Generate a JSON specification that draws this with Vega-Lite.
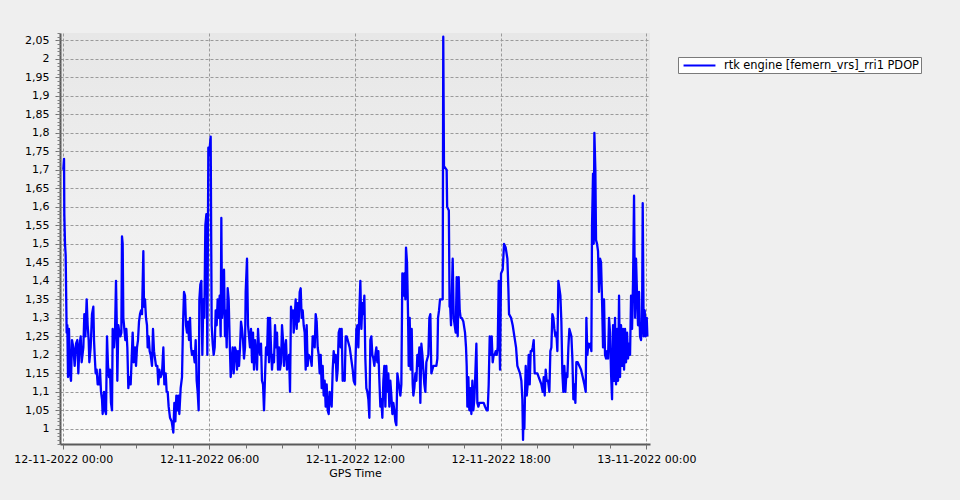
{
  "$schema": "https://vega.github.io/schema/vega-lite/v6.json",
  "width": 590,
  "height": 411,
  "autosize": {"type": "none"},
  "padding": {"left": 60, "top": 33, "right": 310, "bottom": 56},
  "background": "#efefef",
  "config": {
    "view": {
      "stroke": null,
      "fill": {"gradient": "linear", "x1": 0, "y1": 0, "x2": 0, "y2": 1, "stops": [{"offset": 0, "color": "#e7e7e7"}, {"offset": 1, "color": "#fafafa"}]}
    },
    "font": "DejaVu Sans",
    "axis": {"labelFont": "DejaVu Sans", "labelFontSize": 11, "labelColor": "#000000", "titleFont": "DejaVu Sans", "titleFontSize": 11, "titleFontWeight": "normal", "titleColor": "#000000"}
  },
  "data": {"values": [
    {"hour":0.00,"pdop":1.70},{"hour":0.03,"pdop":1.73},{"hour":0.042,"pdop":1.58},{"hour":0.07,"pdop":1.50},{"hour":0.097,"pdop":1.47},{"hour":0.138,"pdop":1.26},{"hour":0.166,"pdop":1.28},{"hour":0.193,"pdop":1.14},{"hour":0.234,"pdop":1.27},{"hour":0.276,"pdop":1.15},{"hour":0.317,"pdop":1.13},{"hour":0.358,"pdop":1.24},{"hour":0.413,"pdop":1.22},{"hour":0.468,"pdop":1.17},{"hour":0.523,"pdop":1.23},{"hour":0.578,"pdop":1.24},{"hour":0.619,"pdop":1.15},{"hour":0.660,"pdop":1.22},{"hour":0.715,"pdop":1.25},{"hour":0.756,"pdop":1.18},{"hour":0.825,"pdop":1.22},{"hour":0.866,"pdop":1.31},{"hour":0.907,"pdop":1.25},{"hour":0.962,"pdop":1.35},{"hour":1.003,"pdop":1.28},{"hour":1.044,"pdop":1.24},{"hour":1.072,"pdop":1.18},{"hour":1.126,"pdop":1.22},{"hour":1.181,"pdop":1.31},{"hour":1.236,"pdop":1.33},{"hour":1.264,"pdop":1.24},{"hour":1.291,"pdop":1.20},{"hour":1.332,"pdop":1.15},{"hour":1.373,"pdop":1.16},{"hour":1.415,"pdop":1.12},{"hour":1.469,"pdop":1.12},{"hour":1.511,"pdop":1.16},{"hour":1.552,"pdop":1.10},{"hour":1.593,"pdop":1.08},{"hour":1.620,"pdop":1.04},{"hour":1.675,"pdop":1.10},{"hour":1.716,"pdop":1.05},{"hour":1.758,"pdop":1.04},{"hour":1.799,"pdop":1.25},{"hour":1.840,"pdop":1.17},{"hour":1.881,"pdop":1.14},{"hour":1.922,"pdop":1.16},{"hour":1.963,"pdop":1.07},{"hour":2.005,"pdop":1.05},{"hour":2.032,"pdop":1.27},{"hour":2.087,"pdop":1.22},{"hour":2.128,"pdop":1.26},{"hour":2.169,"pdop":1.40},{"hour":2.197,"pdop":1.30},{"hour":2.224,"pdop":1.13},{"hour":2.265,"pdop":1.28},{"hour":2.307,"pdop":1.26},{"hour":2.348,"pdop":1.25},{"hour":2.389,"pdop":1.26},{"hour":2.416,"pdop":1.52},{"hour":2.444,"pdop":1.50},{"hour":2.471,"pdop":1.30},{"hour":2.512,"pdop":1.27},{"hour":2.554,"pdop":1.24},{"hour":2.595,"pdop":1.27},{"hour":2.636,"pdop":1.22},{"hour":2.677,"pdop":1.11},{"hour":2.718,"pdop":1.14},{"hour":2.773,"pdop":1.12},{"hour":2.814,"pdop":1.19},{"hour":2.855,"pdop":1.26},{"hour":2.897,"pdop":1.18},{"hour":2.951,"pdop":1.22},{"hour":2.993,"pdop":1.17},{"hour":3.034,"pdop":1.22},{"hour":3.075,"pdop":1.24},{"hour":3.116,"pdop":1.29},{"hour":3.157,"pdop":1.31},{"hour":3.198,"pdop":1.32},{"hour":3.240,"pdop":1.31},{"hour":3.295,"pdop":1.48},{"hour":3.322,"pdop":1.33},{"hour":3.363,"pdop":1.35},{"hour":3.404,"pdop":1.30},{"hour":3.445,"pdop":1.28},{"hour":3.473,"pdop":1.22},{"hour":3.514,"pdop":1.25},{"hour":3.555,"pdop":1.21},{"hour":3.596,"pdop":1.20},{"hour":3.651,"pdop":1.17},{"hour":3.692,"pdop":1.27},{"hour":3.734,"pdop":1.21},{"hour":3.775,"pdop":1.19},{"hour":3.816,"pdop":1.17},{"hour":3.871,"pdop":1.17},{"hour":3.912,"pdop":1.12},{"hour":3.953,"pdop":1.16},{"hour":4.008,"pdop":1.14},{"hour":4.063,"pdop":1.15},{"hour":4.118,"pdop":1.22},{"hour":4.159,"pdop":1.12},{"hour":4.214,"pdop":1.15},{"hour":4.255,"pdop":1.10},{"hour":4.296,"pdop":1.10},{"hour":4.337,"pdop":1.06},{"hour":4.392,"pdop":1.03},{"hour":4.461,"pdop":1.02},{"hour":4.529,"pdop":0.99},{"hour":4.571,"pdop":1.07},{"hour":4.612,"pdop":1.02},{"hour":4.653,"pdop":1.09},{"hour":4.694,"pdop":1.05},{"hour":4.735,"pdop":1.09},{"hour":4.776,"pdop":1.04},{"hour":4.831,"pdop":1.11},{"hour":4.886,"pdop":1.14},{"hour":4.927,"pdop":1.28},{"hour":4.969,"pdop":1.37},{"hour":5.010,"pdop":1.36},{"hour":5.051,"pdop":1.28},{"hour":5.092,"pdop":1.26},{"hour":5.133,"pdop":1.29},{"hour":5.174,"pdop":1.24},{"hour":5.216,"pdop":1.30},{"hour":5.257,"pdop":1.22},{"hour":5.298,"pdop":1.20},{"hour":5.353,"pdop":1.21},{"hour":5.408,"pdop":1.18},{"hour":5.449,"pdop":1.24},{"hour":5.490,"pdop":1.13},{"hour":5.531,"pdop":1.10},{"hour":5.572,"pdop":1.05},{"hour":5.600,"pdop":1.35},{"hour":5.641,"pdop":1.39},{"hour":5.682,"pdop":1.40},{"hour":5.723,"pdop":1.20},{"hour":5.764,"pdop":1.35},{"hour":5.806,"pdop":1.30},{"hour":5.847,"pdop":1.55},{"hour":5.888,"pdop":1.58},{"hour":5.929,"pdop":1.20},{"hour":5.970,"pdop":1.76},{"hour":6.00,"pdop":1.74},
    {"hour":6.066,"pdop":1.79},{"hour":6.107,"pdop":1.28},{"hour":6.149,"pdop":1.23},{"hour":6.190,"pdop":1.20},{"hour":6.231,"pdop":1.22},{"hour":6.272,"pdop":1.32},{"hour":6.313,"pdop":1.28},{"hour":6.354,"pdop":1.35},{"hour":6.396,"pdop":1.30},{"hour":6.437,"pdop":1.36},{"hour":6.478,"pdop":1.25},{"hour":6.505,"pdop":1.57},{"hour":6.533,"pdop":1.30},{"hour":6.574,"pdop":1.33},{"hour":6.615,"pdop":1.43},{"hour":6.656,"pdop":1.25},{"hour":6.684,"pdop":1.32},{"hour":6.725,"pdop":1.22},{"hour":6.766,"pdop":1.38},{"hour":6.807,"pdop":1.35},{"hour":6.848,"pdop":1.24},{"hour":6.890,"pdop":1.14},{"hour":6.931,"pdop":1.18},{"hour":6.972,"pdop":1.22},{"hour":7.013,"pdop":1.15},{"hour":7.068,"pdop":1.22},{"hour":7.109,"pdop":1.21},{"hour":7.150,"pdop":1.16},{"hour":7.191,"pdop":1.21},{"hour":7.233,"pdop":1.17},{"hour":7.274,"pdop":1.22},{"hour":7.315,"pdop":1.29},{"hour":7.356,"pdop":1.27},{"hour":7.397,"pdop":1.24},{"hour":7.438,"pdop":1.19},{"hour":7.480,"pdop":1.22},{"hour":7.507,"pdop":1.37},{"hour":7.562,"pdop":1.46},{"hour":7.603,"pdop":1.28},{"hour":7.644,"pdop":1.25},{"hour":7.685,"pdop":1.22},{"hour":7.727,"pdop":1.27},{"hour":7.768,"pdop":1.18},{"hour":7.809,"pdop":1.26},{"hour":7.850,"pdop":1.16},{"hour":7.891,"pdop":1.24},{"hour":7.932,"pdop":1.20},{"hour":7.974,"pdop":1.16},{"hour":8.015,"pdop":1.27},{"hour":8.056,"pdop":1.22},{"hour":8.097,"pdop":1.20},{"hour":8.138,"pdop":1.23},{"hour":8.179,"pdop":1.13},{"hour":8.221,"pdop":1.12},{"hour":8.262,"pdop":1.05},{"hour":8.303,"pdop":1.14},{"hour":8.344,"pdop":1.22},{"hour":8.385,"pdop":1.20},{"hour":8.426,"pdop":1.30},{"hour":8.468,"pdop":1.18},{"hour":8.509,"pdop":1.30},{"hour":8.550,"pdop":1.22},{"hour":8.591,"pdop":1.16},{"hour":8.632,"pdop":1.20},{"hour":8.673,"pdop":1.18},{"hour":8.715,"pdop":1.28},{"hour":8.756,"pdop":1.22},{"hour":8.797,"pdop":1.26},{"hour":8.838,"pdop":1.16},{"hour":8.879,"pdop":1.22},{"hour":8.920,"pdop":1.16},{"hour":8.962,"pdop":1.18},{"hour":9.003,"pdop":1.28},{"hour":9.044,"pdop":1.24},{"hour":9.085,"pdop":1.17},{"hour":9.126,"pdop":1.22},{"hour":9.167,"pdop":1.24},{"hour":9.209,"pdop":1.16},{"hour":9.250,"pdop":1.18},{"hour":9.291,"pdop":1.20},{"hour":9.332,"pdop":1.10},{"hour":9.373,"pdop":1.33},{"hour":9.414,"pdop":1.30},{"hour":9.456,"pdop":1.32},{"hour":9.483,"pdop":1.26},{"hour":9.524,"pdop":1.30},{"hour":9.565,"pdop":1.35},{"hour":9.607,"pdop":1.27},{"hour":9.648,"pdop":1.34},{"hour":9.689,"pdop":1.29},{"hour":9.730,"pdop":1.37},{"hour":9.771,"pdop":1.38},{"hour":9.812,"pdop":1.30},{"hour":9.854,"pdop":1.32},{"hour":9.895,"pdop":1.28},{"hour":9.936,"pdop":1.26},{"hour":9.977,"pdop":1.16},{"hour":10.018,"pdop":1.28},{"hour":10.059,"pdop":1.17},{"hour":10.101,"pdop":1.20},{"hour":10.142,"pdop":1.195},{"hour":10.183,"pdop":1.19},{"hour":10.224,"pdop":1.17},{"hour":10.265,"pdop":1.25},{"hour":10.306,"pdop":1.25},{"hour":10.348,"pdop":1.22},{"hour":10.389,"pdop":1.31},{"hour":10.430,"pdop":1.29},{"hour":10.471,"pdop":1.22},{"hour":10.512,"pdop":1.20},{"hour":10.553,"pdop":1.15},{"hour":10.595,"pdop":1.20},{"hour":10.636,"pdop":1.11},{"hour":10.677,"pdop":1.17},{"hour":10.718,"pdop":1.09},{"hour":10.759,"pdop":1.13},{"hour":10.800,"pdop":1.06},{"hour":10.842,"pdop":1.12},{"hour":10.883,"pdop":1.05},{"hour":10.924,"pdop":1.04},{"hour":10.965,"pdop":1.10},{"hour":11.006,"pdop":1.08},{"hour":11.047,"pdop":1.06},{"hour":11.089,"pdop":1.16},{"hour":11.130,"pdop":1.21},{"hour":11.171,"pdop":1.18},{"hour":11.212,"pdop":1.20},{"hour":11.253,"pdop":1.13},{"hour":11.294,"pdop":1.16},{"hour":11.336,"pdop":1.26},{"hour":11.377,"pdop":1.27},{"hour":11.418,"pdop":1.22},{"hour":11.459,"pdop":1.27},{"hour":11.500,"pdop":1.13},{"hour":11.541,"pdop":1.15},{"hour":11.583,"pdop":1.13},{"hour":11.624,"pdop":1.25},{"hour":11.665,"pdop":1.25},{"hour":11.706,"pdop":1.24},{"hour":11.747,"pdop":1.23},{"hour":11.788,"pdop":1.22},{"hour":11.830,"pdop":1.20},{"hour":11.871,"pdop":1.18},{"hour":11.912,"pdop":1.16},{"hour":11.953,"pdop":1.13},{"hour":12.008,"pdop":1.12},
    {"hour":12.022,"pdop":1.17},{"hour":12.063,"pdop":1.27},{"hour":12.104,"pdop":1.28},{"hour":12.145,"pdop":1.22},{"hour":12.186,"pdop":1.32},{"hour":12.227,"pdop":1.40},{"hour":12.269,"pdop":1.27},{"hour":12.310,"pdop":1.34},{"hour":12.351,"pdop":1.31},{"hour":12.392,"pdop":1.36},{"hour":12.433,"pdop":1.19},{"hour":12.474,"pdop":1.11},{"hour":12.516,"pdop":1.10},{"hour":12.557,"pdop":1.08},{"hour":12.598,"pdop":1.03},{"hour":12.639,"pdop":1.24},{"hour":12.680,"pdop":1.25},{"hour":12.721,"pdop":1.20},{"hour":12.763,"pdop":1.19},{"hour":12.804,"pdop":1.17},{"hour":12.845,"pdop":1.20},{"hour":12.886,"pdop":1.22},{"hour":12.927,"pdop":1.18},{"hour":12.968,"pdop":1.21},{"hour":13.010,"pdop":1.13},{"hour":13.051,"pdop":1.06},{"hour":13.092,"pdop":1.08},{"hour":13.133,"pdop":1.03},{"hour":13.174,"pdop":1.13},{"hour":13.215,"pdop":1.17},{"hour":13.257,"pdop":1.06},{"hour":13.298,"pdop":1.17},{"hour":13.339,"pdop":1.10},{"hour":13.380,"pdop":1.15},{"hour":13.421,"pdop":1.06},{"hour":13.462,"pdop":1.13},{"hour":13.504,"pdop":1.09},{"hour":13.545,"pdop":1.04},{"hour":13.586,"pdop":1.07},{"hour":13.627,"pdop":1.05},{"hour":13.668,"pdop":1.02},{"hour":13.709,"pdop":1.01},{"hour":13.751,"pdop":1.15},{"hour":13.792,"pdop":1.13},{"hour":13.833,"pdop":1.11},{"hour":13.874,"pdop":1.09},{"hour":13.915,"pdop":1.12},{"hour":13.956,"pdop":1.42},{"hour":13.998,"pdop":1.36},{"hour":14.039,"pdop":1.42},{"hour":14.080,"pdop":1.35},{"hour":14.107,"pdop":1.49},{"hour":14.148,"pdop":1.45},{"hour":14.190,"pdop":1.31},{"hour":14.217,"pdop":1.17},{"hour":14.258,"pdop":1.30},{"hour":14.299,"pdop":1.16},{"hour":14.341,"pdop":1.27},{"hour":14.382,"pdop":1.12},{"hour":14.409,"pdop":1.09},{"hour":14.450,"pdop":1.11},{"hour":14.492,"pdop":1.15},{"hour":14.533,"pdop":1.13},{"hour":14.574,"pdop":1.20},{"hour":14.615,"pdop":1.17},{"hour":14.656,"pdop":1.22},{"hour":14.697,"pdop":1.07},{"hour":14.739,"pdop":1.23},{"hour":14.780,"pdop":1.20},{"hour":14.821,"pdop":1.16},{"hour":14.862,"pdop":1.12},{"hour":14.903,"pdop":1.10},{"hour":14.944,"pdop":1.18},{"hour":14.986,"pdop":1.19},{"hour":15.027,"pdop":1.20},{"hour":15.068,"pdop":1.30},{"hour":15.109,"pdop":1.31},{"hour":15.150,"pdop":1.15},{"hour":15.191,"pdop":1.16},{"hour":15.233,"pdop":1.17},{"hour":15.274,"pdop":1.17},{"hour":15.315,"pdop":1.17},{"hour":15.356,"pdop":1.17},{"hour":15.397,"pdop":1.19},{"hour":15.425,"pdop":1.30},{"hour":15.466,"pdop":1.32},{"hour":15.507,"pdop":1.35},{"hour":15.576,"pdop":1.35},{"hour":15.617,"pdop":1.35},{"hour":15.64,"pdop":2.06},{"hour":15.67,"pdop":1.71},{"hour":15.78,"pdop":1.70},{"hour":15.80,"pdop":1.60},{"hour":15.87,"pdop":1.59},{"hour":15.90,"pdop":1.33},{"hour":15.919,"pdop":1.34},{"hour":15.960,"pdop":1.28},{"hour":16.028,"pdop":1.46},{"hour":16.070,"pdop":1.30},{"hour":16.111,"pdop":1.28},{"hour":16.152,"pdop":1.26},{"hour":16.193,"pdop":1.41},{"hour":16.234,"pdop":1.25},{"hour":16.275,"pdop":1.41},{"hour":16.317,"pdop":1.32},{"hour":16.358,"pdop":1.30},{"hour":16.399,"pdop":1.30},{"hour":16.467,"pdop":1.29},{"hour":16.536,"pdop":1.26},{"hour":16.577,"pdop":1.22},{"hour":16.605,"pdop":1.17},{"hour":16.632,"pdop":1.06},{"hour":16.673,"pdop":1.14},{"hour":16.714,"pdop":1.05},{"hour":16.756,"pdop":1.11},{"hour":16.797,"pdop":1.04},{"hour":16.838,"pdop":1.13},{"hour":16.879,"pdop":1.05},{"hour":16.920,"pdop":1.08},{"hour":16.961,"pdop":1.15},{"hour":17.003,"pdop":1.23},{"hour":17.044,"pdop":1.07},{"hour":17.085,"pdop":1.06},{"hour":17.126,"pdop":1.07},{"hour":17.167,"pdop":1.07},{"hour":17.236,"pdop":1.07},{"hour":17.305,"pdop":1.07},{"hour":17.359,"pdop":1.06},{"hour":17.428,"pdop":1.05},{"hour":17.469,"pdop":1.05},{"hour":17.510,"pdop":1.12},{"hour":17.552,"pdop":1.25},{"hour":17.593,"pdop":1.20},{"hour":17.634,"pdop":1.25},{"hour":17.675,"pdop":1.18},{"hour":17.716,"pdop":1.20},{"hour":17.757,"pdop":1.20},{"hour":17.799,"pdop":1.21},{"hour":17.840,"pdop":1.20},{"hour":17.881,"pdop":1.22},{"hour":17.922,"pdop":1.40},{"hour":17.963,"pdop":1.20},
    {"hour":17.977,"pdop":1.16},{"hour":18.018,"pdop":1.42},{"hour":18.087,"pdop":1.43},{"hour":18.142,"pdop":1.50},{"hour":18.210,"pdop":1.49},{"hour":18.279,"pdop":1.46},{"hour":18.320,"pdop":1.38},{"hour":18.347,"pdop":1.31},{"hour":18.430,"pdop":1.30},{"hour":18.498,"pdop":1.28},{"hour":18.567,"pdop":1.25},{"hour":18.636,"pdop":1.22},{"hour":18.691,"pdop":1.17},{"hour":18.745,"pdop":1.16},{"hour":18.800,"pdop":1.15},{"hour":18.855,"pdop":1.13},{"hour":18.896,"pdop":1.08},{"hour":18.924,"pdop":0.97},{"hour":18.951,"pdop":1.06},{"hour":18.979,"pdop":1.00},{"hour":19.006,"pdop":1.10},{"hour":19.034,"pdop":1.17},{"hour":19.075,"pdop":1.09},{"hour":19.116,"pdop":1.12},{"hour":19.157,"pdop":1.20},{"hour":19.198,"pdop":1.12},{"hour":19.239,"pdop":1.21},{"hour":19.281,"pdop":1.21},{"hour":19.322,"pdop":1.22},{"hour":19.363,"pdop":1.24},{"hour":19.404,"pdop":1.15},{"hour":19.459,"pdop":1.15},{"hour":19.514,"pdop":1.15},{"hour":19.569,"pdop":1.14},{"hour":19.624,"pdop":1.13},{"hour":19.679,"pdop":1.12},{"hour":19.733,"pdop":1.10},{"hour":19.775,"pdop":1.14},{"hour":19.816,"pdop":1.09},{"hour":19.857,"pdop":1.16},{"hour":19.898,"pdop":1.13},{"hour":19.953,"pdop":1.13},{"hour":20.008,"pdop":1.10},{"hour":20.049,"pdop":1.21},{"hour":20.090,"pdop":1.22},{"hour":20.131,"pdop":1.31},{"hour":20.173,"pdop":1.30},{"hour":20.214,"pdop":1.27},{"hour":20.255,"pdop":1.25},{"hour":20.296,"pdop":1.26},{"hour":20.337,"pdop":1.21},{"hour":20.378,"pdop":1.40},{"hour":20.420,"pdop":1.38},{"hour":20.461,"pdop":1.36},{"hour":20.502,"pdop":1.29},{"hour":20.543,"pdop":1.15},{"hour":20.584,"pdop":1.10},{"hour":20.625,"pdop":1.17},{"hour":20.667,"pdop":1.10},{"hour":20.708,"pdop":1.15},{"hour":20.749,"pdop":1.14},{"hour":20.790,"pdop":1.22},{"hour":20.831,"pdop":1.27},{"hour":20.872,"pdop":1.26},{"hour":20.914,"pdop":1.25},{"hour":20.955,"pdop":1.19},{"hour":20.996,"pdop":1.08},{"hour":21.037,"pdop":1.12},{"hour":21.078,"pdop":1.07},{"hour":21.119,"pdop":1.18},{"hour":21.174,"pdop":1.18},{"hour":21.243,"pdop":1.17},{"hour":21.311,"pdop":1.16},{"hour":21.380,"pdop":1.14},{"hour":21.449,"pdop":1.12},{"hour":21.504,"pdop":1.10},{"hour":21.531,"pdop":1.30},{"hour":21.572,"pdop":1.20},{"hour":21.613,"pdop":1.23},{"hour":21.654,"pdop":1.22},{"hour":21.696,"pdop":1.23},{"hour":21.737,"pdop":1.21},{"hour":21.764,"pdop":1.55},{"hour":21.805,"pdop":1.69},{"hour":21.833,"pdop":1.50},{"hour":21.860,"pdop":1.80},{"hour":21.901,"pdop":1.70},{"hour":21.929,"pdop":1.51},{"hour":21.970,"pdop":1.50},{"hour":22.011,"pdop":1.48},{"hour":22.052,"pdop":1.37},{"hour":22.094,"pdop":1.46},{"hour":22.135,"pdop":1.45},{"hour":22.176,"pdop":1.35},{"hour":22.217,"pdop":1.22},{"hour":22.258,"pdop":1.35},{"hour":22.299,"pdop":1.20},{"hour":22.341,"pdop":1.19},{"hour":22.382,"pdop":1.21},{"hour":22.423,"pdop":1.19},{"hour":22.464,"pdop":1.30},{"hour":22.505,"pdop":1.26},{"hour":22.546,"pdop":1.15},{"hour":22.588,"pdop":1.08},{"hour":22.629,"pdop":1.28},{"hour":22.670,"pdop":1.13},{"hour":22.711,"pdop":1.30},{"hour":22.752,"pdop":1.12},{"hour":22.793,"pdop":1.27},{"hour":22.835,"pdop":1.13},{"hour":22.876,"pdop":1.36},{"hour":22.917,"pdop":1.14},{"hour":22.958,"pdop":1.28},{"hour":22.999,"pdop":1.17},{"hour":23.040,"pdop":1.27},{"hour":23.082,"pdop":1.16},{"hour":23.123,"pdop":1.27},{"hour":23.164,"pdop":1.18},{"hour":23.205,"pdop":1.26},{"hour":23.246,"pdop":1.19},{"hour":23.287,"pdop":1.23},{"hour":23.329,"pdop":1.20},{"hour":23.370,"pdop":1.36},{"hour":23.411,"pdop":1.27},{"hour":23.452,"pdop":1.40},{"hour":23.493,"pdop":1.63},{"hour":23.534,"pdop":1.30},{"hour":23.575,"pdop":1.46},{"hour":23.617,"pdop":1.36},{"hour":23.658,"pdop":1.28},{"hour":23.699,"pdop":1.37},{"hour":23.740,"pdop":1.25},{"hour":23.781,"pdop":1.24},{"hour":23.823,"pdop":1.29},{"hour":23.850,"pdop":1.61},{"hour":23.891,"pdop":1.25},{"hour":23.932,"pdop":1.32},{"hour":23.974,"pdop":1.25},{"hour":24.015,"pdop":1.30},{"hour":24.042,"pdop":1.25}
  ]},
  "resolve": {"axis": {"x": "independent", "y": "independent"}},
  "layer": [
    {
      "mark": {"type": "line", "color": "#0000ff", "strokeWidth": 2.3, "strokeJoin": "round", "clip": true},
      "encoding": {
        "x": {"field": "hour", "type": "quantitative",
          "scale": {"domain": [-0.136, 24.15], "nice": false, "zero": false},
          "axis": {"orient": "bottom", "values": [0, 6, 12, 18, 24], "title": "GPS Time", "titlePadding": 3,
            "labelExpr": "datum.value == 24 ? '13-11-2022 00:00' : '12-11-2022 ' + (datum.value < 10 ? '0' : '') + datum.value + ':00'",
            "labelPadding": 4, "tickSize": 5, "tickColor": "#707070", "domainColor": "#5a5a5a", "domainWidth": 2,
            "grid": true, "gridColor": "#9a9a9a", "gridDash": [3, 2], "gridWidth": 1, "labelFlush": false}},
        "y": {"field": "pdop", "type": "quantitative",
          "scale": {"domain": [0.959, 2.07], "nice": false, "zero": false},
          "axis": {"orient": "left", "values": [1, 1.05, 1.1, 1.15, 1.2, 1.25, 1.3, 1.35, 1.4, 1.45, 1.5, 1.55, 1.6, 1.65, 1.7, 1.75, 1.8, 1.85, 1.9, 1.95, 2, 2.05],
            "title": null, "labelExpr": "replace(format(datum.value, '.2~f'), '.', ',')",
            "tickSize": 5, "tickColor": "#707070", "labelPadding": 6, "domainColor": "#5a5a5a", "domainWidth": 2,
            "grid": true, "gridColor": "#9a9a9a", "gridDash": [3, 2], "gridWidth": 1, "labelFlush": false}},
        "color": {"datum": "rtk engine [femern_vrs]_rri1 PDOP", "type": "nominal",
          "scale": {"range": ["#0000ff"]},
          "legend": {"orient": "none", "legendX": 618, "legendY": 24, "title": null,
            "fillColor": "#ffffff", "strokeColor": "#7a7a7a", "padding": 2,
            "symbolType": "M-2.9,0H2.9", "symbolSize": 121, "symbolStrokeWidth": 2, "symbolOffset": 13,
            "labelFont": "DejaVu Sans", "labelFontSize": 11.4, "labelColor": "#000000", "labelOffset": 18, "labelLimit": 400}}
      }
    },
    {
      "mark": {"type": "point", "opacity": 0},
      "encoding": {
        "x": {"field": "hour", "type": "quantitative",
          "axis": {"orient": "bottom", "values": [0, 1.5, 3, 4.5, 6, 7.5, 9, 10.5, 12, 13.5, 15, 16.5, 18, 19.5, 21, 22.5, 24],
            "labels": false, "grid": false, "domain": false, "title": null, "tickSize": 4, "tickColor": "#707070"}},
        "y": {"field": "pdop", "type": "quantitative",
          "axis": {"orient": "left", "tickCount": 110, "labels": false, "grid": false, "domain": false, "title": null, "tickSize": 3, "tickColor": "#808080"}}
      }
    }
  ]
}
